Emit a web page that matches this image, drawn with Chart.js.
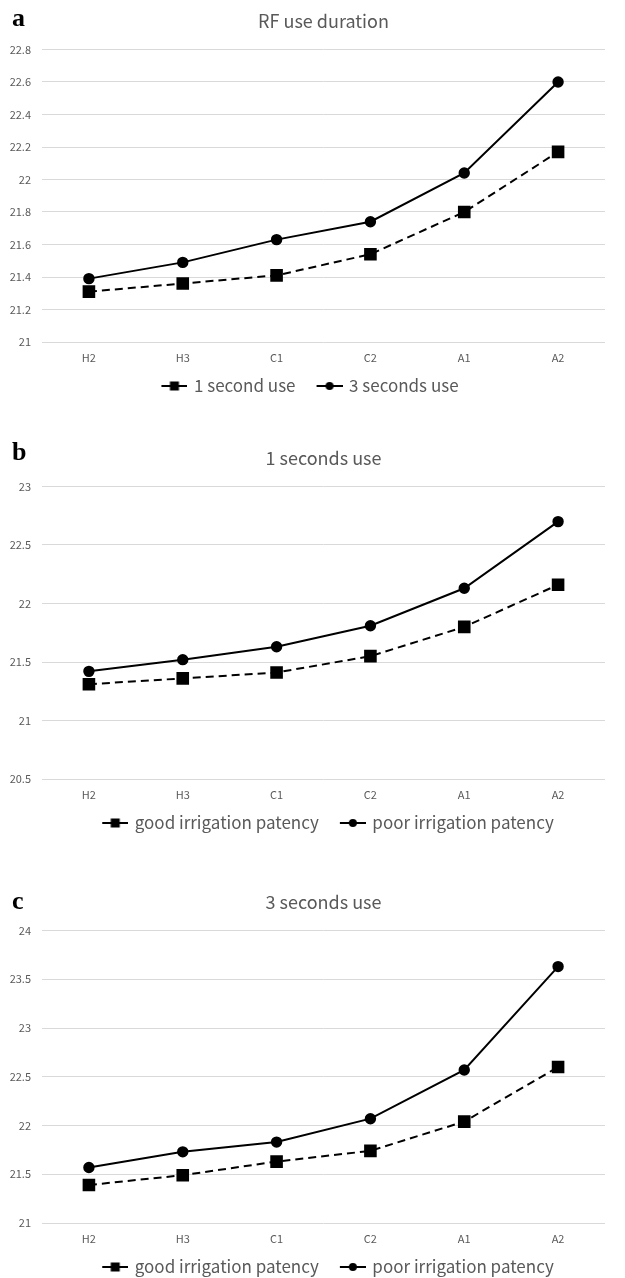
<!DOCTYPE html>
<html>
<head>
<meta charset="utf-8">
<script src="https://cdn.jsdelivr.net/npm/chart.js@4"></script>
<style>
  body { margin: 0; background: #fff; width: 625px; height: 1278px; position: relative; overflow: hidden; }
  .panel { position: absolute; left: 0; width: 625px; height: 440px; }
  .tag { position: absolute; left: 12px; font: bold 26px "Liberation Serif", serif; line-height: 26px; color: #000; }
</style>
</head>
<body>
<div class="panel" style="top:0px"><canvas id="chartA" width="625" height="440"></canvas></div>
<div class="panel" style="top:437px"><canvas id="chartB" width="625" height="440"></canvas></div>
<div class="panel" style="top:881px"><canvas id="chartC" width="625" height="440"></canvas></div>
<div class="tag" style="top:5px">a</div>
<div class="tag" style="top:439px">b</div>
<div class="tag" style="top:888px">c</div>
<script>
// categories shared by all three panels
const categories = ['H2', 'H3', 'C1', 'C2', 'A1', 'A2'];

// panel a: RF use duration
const rfOneSecond = [21.31, 21.36, 21.41, 21.54, 21.80, 22.17];
const rfThreeSeconds = [21.39, 21.49, 21.63, 21.74, 22.04, 22.60];
// panel b: 1 seconds use
const oneSecGood = [21.31, 21.36, 21.41, 21.55, 21.80, 22.16];
const oneSecPoor = [21.42, 21.52, 21.63, 21.81, 22.13, 22.70];
// panel c: 3 seconds use
const threeSecGood = [21.39, 21.49, 21.63, 21.74, 22.04, 22.60];
const threeSecPoor = [21.57, 21.73, 21.83, 22.07, 22.57, 23.63];

// y tick labels
const ticksA = [21, 21.2, 21.4, 21.6, 21.8, 22, 22.2, 22.4, 22.6, 22.8];
const ticksB = [20.5, 21, 21.5, 22, 22.5, 23];
const ticksC = [21, 21.5, 22, 22.5, 23, 23.5, 24];

const FONT = '"Noto Sans CJK KR", "Noto Sans", sans-serif';
const TEXT = '#595959';

// small "-■-" / "-●-" legend glyphs, with some blank space on the left
// so the legend items sit further apart
function legendIcon(shape) {
    const c = document.createElement('canvas');
    c.width = 37;
    c.height = 12;
    const g = c.getContext('2d');
    g.strokeStyle = '#000';
    g.fillStyle = '#000';
    g.lineWidth = 2;
    g.beginPath();
    g.moveTo(11, 6);
    g.lineTo(37, 6);
    g.stroke();
    if (shape === 'rect') {
        g.fillRect(19.5, 1.5, 9, 9);
    } else {
        g.beginPath();
        g.arc(24, 6, 4, 0, Math.PI * 2);
        g.fill();
    }
    return c;
}
const icons = [legendIcon('rect'), legendIcon('circle')];

function makeChart(id, title, names, dashedValues, solidValues, yTicks, legendFull) {
    return new Chart(document.getElementById(id), {
        type: 'line',
        data: {
            labels: categories,
            datasets: [{
                label: names[0],
                data: dashedValues,
                borderColor: '#000',
                backgroundColor: '#000',
                borderWidth: 2,
                borderDash: [8, 5],
                pointStyle: 'rect',
                pointRadius: 7.5,
                pointHoverRadius: 7.5,
                tension: 0
            }, {
                label: names[1],
                data: solidValues,
                borderColor: '#000',
                backgroundColor: '#000',
                borderWidth: 2,
                pointStyle: 'circle',
                pointRadius: 4.7,
                pointHoverRadius: 4.7,
                tension: 0
            }]
        },
        options: {
            responsive: false,
            animation: false,
            layout: { padding: { left: 6, right: 20, top: 0, bottom: 35.5 } },
            plugins: {
                title: {
                    display: true,
                    text: title,
                    fullSize: false,
                    color: TEXT,
                    font: { family: FONT, size: 18, weight: 'normal' },
                    padding: { top: 10.2, bottom: 17.7 }
                },
                legend: {
                    position: 'bottom',
                    fullSize: legendFull,
                    labels: {
                        usePointStyle: true,
                        pointStyleWidth: 33,
                        padding: 12,
                        color: TEXT,
                        font: { family: FONT, size: 17 },
                        generateLabels: chart =>
                            Chart.defaults.plugins.legend.labels.generateLabels(chart)
                                .map((item, i) => Object.assign(item, { pointStyle: icons[i] }))
                    }
                },
                tooltip: { enabled: false }
            },
            scales: {
                x: {
                    offset: true,
                    grid: { display: false, drawTicks: false },
                    border: { display: false },
                    ticks: { color: TEXT, font: { family: FONT, size: 11 }, padding: 9 },
                    afterFit: s => { s.height = 23.5; }
                },
                y: {
                    min: yTicks[0],
                    max: yTicks[yTicks.length - 1],
                    grid: { color: '#d9d9d9', drawTicks: false },
                    border: { display: false },
                    ticks: { color: TEXT, font: { family: FONT, size: 11 }, padding: 11, callback: v => String(v) },
                    afterBuildTicks: s => { s.ticks = yTicks.map(v => ({ value: v })); },
                    afterFit: s => { s.width = 36; }
                }
            }
        }
    });
}

makeChart('chartA', 'RF use duration', ['1 second use', '3 seconds use'], rfOneSecond, rfThreeSeconds, ticksA, true);
makeChart('chartB', '1 seconds use', ['good irrigation patency', 'poor irrigation patency'], oneSecGood, oneSecPoor, ticksB, false);
makeChart('chartC', '3 seconds use', ['good irrigation patency', 'poor irrigation patency'], threeSecGood, threeSecPoor, ticksC, false);
</script>
</body>
</html>
